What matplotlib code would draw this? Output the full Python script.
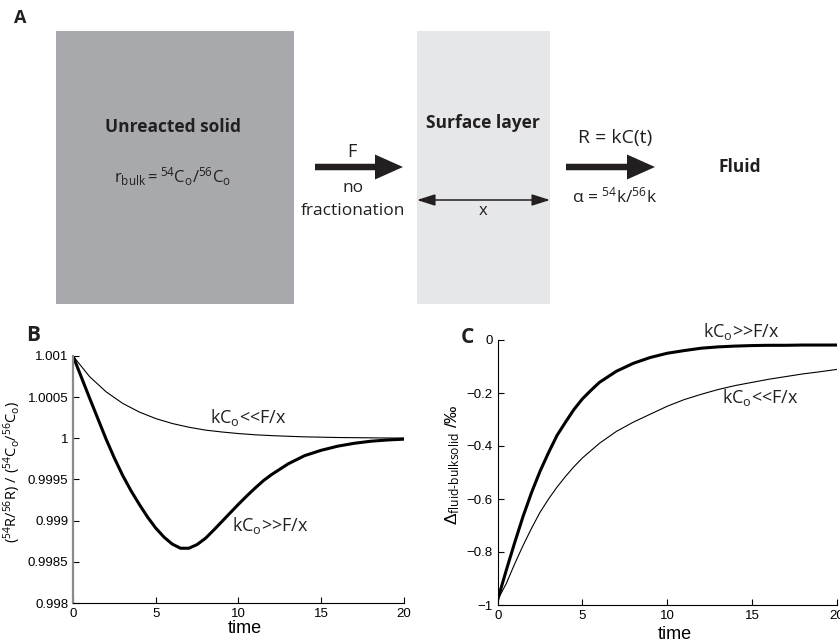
import numpy as np
import matplotlib
matplotlib.use("Agg")
import matplotlib.pyplot as plt
from matplotlib.patches import Rectangle, FancyArrow
from matplotlib.ticker import FuncFormatter

plt.rcParams['font.family'] = ['Liberation Sans', 'DejaVu Sans']
plt.rcParams['mathtext.fontset'] = 'custom'
plt.rcParams['mathtext.rm'] = 'Open Sans'
plt.rcParams['mathtext.it'] = 'Open Sans:italic'
plt.rcParams['mathtext.bf'] = 'Open Sans:bold'

INK = '#231f20'

# ---- panel B data (ratio) ----
tB_slow = [0, 1, 2, 3, 4, 5, 6, 7, 8, 9, 10, 11, 12, 13, 14, 15, 16, 17, 18, 19, 20]
rB_slow = [1.001, 1.00075, 1.000565, 1.000425, 1.00032, 1.00024, 1.00018,
           1.000135, 1.0001, 1.000077, 1.000058, 1.000043, 1.000033, 1.000025,
           1.000018, 1.000014, 1.00001, 1.000008, 1.000006, 1.000004, 1.000003]
tB_fast = [0, 0.5, 1, 1.5, 2, 2.5, 3, 3.5, 4, 4.5, 5, 5.5, 6, 6.5, 7, 7.5, 8,
           8.5, 9, 9.5, 10, 10.5, 11, 11.5, 12, 13, 14, 15, 16, 17, 18, 19, 20]
rB_fast = [1.001, 1.000745, 1.00049, 1.00024, 0.99999, 0.99976, 0.99955,
           0.999365, 0.9992, 0.999045, 0.99891, 0.9988, 0.998715, 0.998665,
           0.998665, 0.99871, 0.998785, 0.998885, 0.99899, 0.999095, 0.9992,
           0.9993, 0.999395, 0.999485, 0.99956, 0.99969, 0.99979, 0.999855,
           0.999905, 0.99994, 0.999965, 0.99998, 0.99999]

# ---- panel C data (per mil) ----
tC_fast = [0, 0.5, 1, 1.5, 2, 2.5, 3, 3.5, 4, 4.5, 5, 5.5, 6, 7, 8, 9, 10,
           11, 12, 13, 14, 15, 16, 17, 18, 19, 20]
dC_fast = [-0.98, -0.87, -0.765, -0.665, -0.575, -0.495, -0.425, -0.36, -0.31,
           -0.262, -0.222, -0.19, -0.16, -0.118, -0.088, -0.066, -0.05, -0.04,
           -0.031, -0.026, -0.023, -0.021, -0.02, -0.02, -0.019, -0.019, -0.019]
tC_slow = [0, 0.5, 1, 1.5, 2, 2.5, 3, 3.5, 4, 4.5, 5, 6, 7, 8, 9, 10, 11, 12,
           13, 14, 15, 16, 17, 18, 19, 20]
dC_slow = [-0.98, -0.92, -0.845, -0.775, -0.71, -0.65, -0.6, -0.555, -0.515,
           -0.478, -0.445, -0.39, -0.345, -0.31, -0.28, -0.25, -0.225, -0.205,
           -0.187, -0.172, -0.16, -0.148, -0.138, -0.128, -0.12, -0.111]

fig = plt.figure(figsize=(8.4, 6.44), dpi=100)

# ---- panel A: schematic, drawn in pixel units ----
ax0 = fig.add_axes([0, 0, 1, 1])
ax0.set_xlim(0, 840)
ax0.set_ylim(644, 0)
ax0.set_axis_off()

ax0.add_patch(Rectangle((56, 31), 238, 273, color='#a7a9ac', lw=0))
ax0.add_patch(Rectangle((417, 31), 133, 273, color='#e6e7e8', lw=0))
ax0.add_patch(FancyArrow(315, 167, 88, 0, width=6.5, head_width=25,
                         head_length=28, length_includes_head=True,
                         color=INK, lw=0))
ax0.add_patch(FancyArrow(566, 167, 89, 0, width=6.5, head_width=25,
                         head_length=28, length_includes_head=True,
                         color=INK, lw=0))
ax0.annotate('', xy=(417, 200), xytext=(550, 200),
             arrowprops=dict(arrowstyle='<|-|>,head_length=1.1,head_width=0.35',
                             color=INK, lw=1.1, shrinkA=0, shrinkB=0))

sans = 'Open Sans'
ax0.text(20, 18, 'A', fontsize=13, fontweight='bold', family=sans, color=INK,
         ha='center', va='center')
ax0.text(173, 127, 'Unreacted solid', fontsize=12.5, fontweight='bold',
         family=sans, color=INK, ha='center', va='center')
ax0.text(173, 177, r'$\mathrm{r}_{\mathrm{bulk}} = {}^{54}\mathrm{C}_{\mathrm{o}}/{}^{56}\mathrm{C}_{\mathrm{o}}$',
         fontsize=12, family=sans, color=INK, ha='center', va='center')
ax0.text(352, 152, 'F', fontsize=13, family=sans, color=INK, ha='center', va='center')
ax0.text(353, 188, 'no', fontsize=12.5, family=sans, color=INK, ha='center', va='center')
ax0.text(353, 211, 'fractionation', fontsize=12.5, family=sans, color=INK,
         ha='center', va='center')
ax0.text(483, 123, 'Surface layer', fontsize=12.5, fontweight='bold', family=sans,
         color=INK, ha='center', va='center')
ax0.text(483, 211, 'x', fontsize=12, family=sans, color=INK, ha='center', va='center')
ax0.text(615, 138, 'R = kC(t)', fontsize=14, family=sans, color=INK,
         ha='center', va='center')
ax0.text(615, 196, r'α = $^{54}$k/$^{56}$k', fontsize=12.5,
         family=sans, color=INK, ha='center', va='center')
ax0.text(740, 167, 'Fluid', fontsize=12.5, fontweight='bold', family=sans,
         color=INK, ha='center', va='center')
ax0.text(33, 335, 'B', fontsize=15, fontweight='bold', family=sans, color=INK,
         ha='center', va='center')
ax0.text(467, 337, 'C', fontsize=15, fontweight='bold', family=sans, color=INK,
         ha='center', va='center')


def style(ax):
    ax.spines['top'].set_visible(False)
    ax.spines['right'].set_visible(False)
    ax.patch.set_alpha(0)
    ax.tick_params(direction='in', length=4, width=0.8, labelsize=9.5)
    ax.set_xlim(0, 20)
    ax.set_xticks([0, 5, 10, 15, 20])


# ---- panel B ----
axB = fig.add_axes([73 / 840, 41 / 644, 331 / 840, 247 / 644])
style(axB)
axB.spines['left'].set_color('#8a8a8a')
axB.spines['left'].set_linewidth(1.6)
axB.plot(tB_slow, rB_slow, color='black', lw=0.8)
axB.plot(tB_fast, rB_fast, color='black', lw=2.2)
axB.set_ylim(0.998, 1.001)
axB.set_yticks([0.998, 0.9985, 0.999, 0.9995, 1.0, 1.0005, 1.001])
axB.yaxis.set_major_formatter(FuncFormatter(lambda v, p: f'{v:g}'))
axB.set_xlabel('time', fontsize=13)
axB.xaxis.set_label_coords(0.52, -0.068)
axB.set_ylabel(r'$({}^{54}\mathrm{R}/{}^{56}\mathrm{R})\ /\ ({}^{54}\mathrm{C}_{\mathrm{o}}/{}^{56}\mathrm{C}_{\mathrm{o}})$',
               fontsize=10.5)
axB.yaxis.set_label_coords(-0.152, 0.53)
axB.text(8.28, 1.000247, r'kC$_\mathrm{o}$<<F/x', fontsize=13, family=sans,
         color=INK, ha='left', va='center')
axB.text(9.6, 0.998947, r'kC$_\mathrm{o}$>>F/x', fontsize=13, family=sans,
         color=INK, ha='left', va='center')

# ---- panel C ----
axC = fig.add_axes([497.7 / 840, 39 / 644, 339 / 840, 265 / 644])
style(axC)
axC.plot(tC_slow, dC_slow, color='black', lw=0.8)
axC.plot(tC_fast, dC_fast, color='black', lw=2.2)
axC.set_ylim(-1, 0)
axC.set_yticks([-1, -0.8, -0.6, -0.4, -0.2, 0])
axC.yaxis.set_major_formatter(FuncFormatter(lambda v, p: f'{v:g}'.replace('-', '\u2212')))
axC.set_xlabel('time', fontsize=13)
axC.xaxis.set_label_coords(0.523, -0.08)
axC.set_ylabel(r'Δ$_{\mathrm{fluid\text{-}bulksolid}}$ /‰', fontsize=12.5)
axC.yaxis.set_label_coords(-0.105, 0.53)
axC.text(12.1, 0.031, r'kC$_\mathrm{o}$>>F/x', fontsize=13, family=sans,
         color=INK, ha='left', va='center')
axC.text(13.25, -0.216, r'kC$_\mathrm{o}$<<F/x', fontsize=13, family=sans,
         color=INK, ha='left', va='center')

fig.savefig('out.png', dpi=100)
